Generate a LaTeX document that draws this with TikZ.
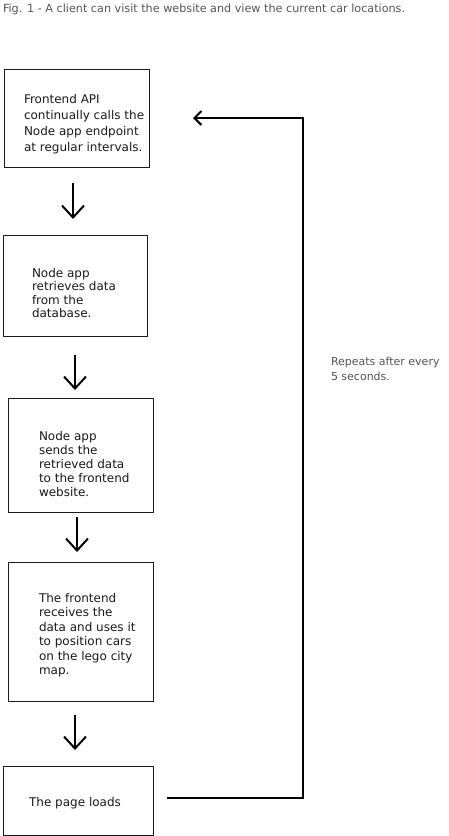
\documentclass[tikz,border=0pt]{standalone}
\usepackage{fontspec}
\setmainfont{DejaVu Sans}
\usetikzlibrary{arrows.meta}
\definecolor{ink}{HTML}{1A1A1A}
\definecolor{soft}{HTML}{555555}
\begin{document}
\begin{tikzpicture}[x=1pt,y=-1pt,
  box/.style={draw=ink, line width=0.9pt, rectangle, inner sep=0pt, outer sep=0pt, anchor=north west},
  txt/.style={text=ink, inner sep=0pt, outer sep=0pt, align=left, anchor=base west, font=\fontsize{12}{14}\selectfont},
  downarrow/.style={draw=black, line width=2pt, -{Straight Barb[length=12pt,width=22pt]}},
  backloop/.style={draw=black, line width=2pt, -{Straight Barb[length=7pt,width=14pt]}},
  note/.style={text=soft, inner sep=0pt, outer sep=0pt, align=left, anchor=base west, font=\fontsize{11}{15}\selectfont}]
\useasboundingbox (0,0) rectangle (449,836);
\fill[white] (0,0) rectangle (449,836);

\node[note, font=\fontsize{11.2}{13}\selectfont] (ttl) at (3,12) {Fig. 1 - A client can visit the website and view the current car locations.};

\node[box, minimum width=145, minimum height=98] (b1) at (4,69) {};
\node[box, minimum width=144, minimum height=101] (b2) at (3,235) {};
\node[box, minimum width=145, minimum height=114] (b3) at (8,398) {};
\node[box, minimum width=145, minimum height=139] (b4) at (8,562) {};
\node[box, minimum width=150, minimum height=69] (b5) at (3,766) {};

\node[txt, font=\fontsize{12}{16}\selectfont] (t1) at (24,151) {Frontend API\\continually calls the\\Node app endpoint\\at regular intervals.};
\node[txt, font=\fontsize{12}{13.5}\selectfont] (t2) at (32,317.5) {Node app\\retrieves data\\from the\\database.};
\node[txt, font=\fontsize{12}{13.8}\selectfont] (t3) at (39,496) {Node app\\sends the\\retrieved data\\to the frontend\\website.};
\node[txt, font=\fontsize{12}{14.5}\selectfont] (t4) at (39,674.5) {The frontend\\receives the\\data and uses it\\to position cars\\on the lego city\\map.};
\node[txt, anchor=base] (t5) at (75,806) {The page loads};

\draw[downarrow, shorten <=16pt, shorten >=16pt] ([xshift=-3.5]b1.south) -- ([xshift=-3.5]b1.south |- b2.north);
\draw[downarrow, shorten <=19pt, shorten >=8pt] (b2.south) -- (b2.south |- b3.north);
\draw[downarrow, shorten <=5pt, shorten >=10pt] ([xshift=-3.5]b3.south) -- ([xshift=-3.5]b3.south |- b4.north);
\draw[downarrow, shorten <=14pt, shorten >=16pt] ([xshift=-5.5]b4.south) -- ([xshift=-5.5]b4.south |- b5.north);

\coordinate (turn) at (303,798);
\draw[backloop, shorten <=14pt, shorten >=44pt] (b5.east |- turn) -- (turn) |- (b1.east);

\node[note] (rep) at (331,380) {Repeats after every\\5 seconds.};
\end{tikzpicture}
\end{document}
